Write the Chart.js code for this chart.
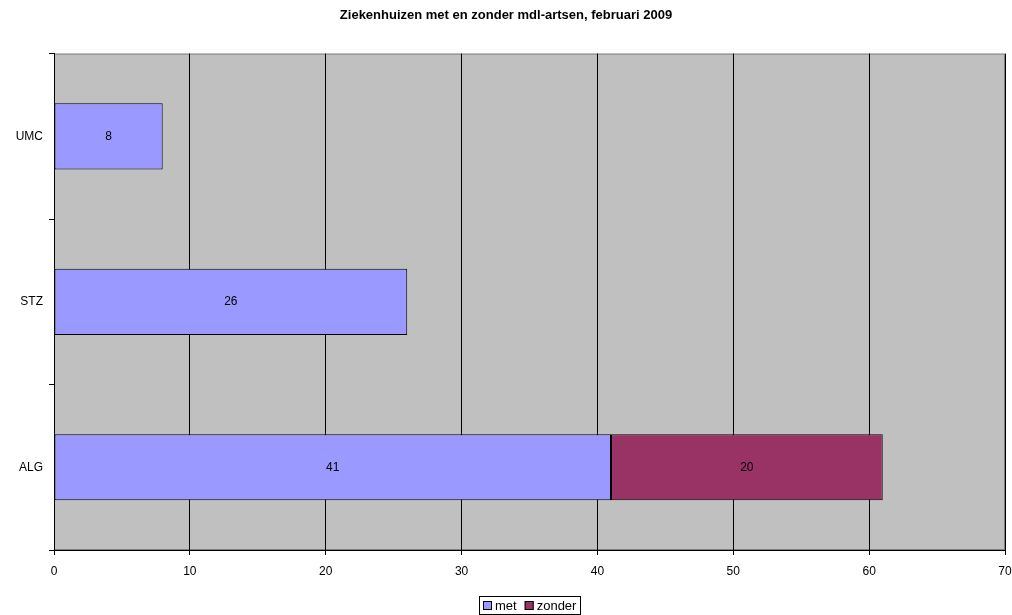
<!DOCTYPE html>
<html>
<head>
<meta charset="utf-8">
<script src="https://cdn.jsdelivr.net/npm/chart.js@4/dist/chart.umd.min.js"></script>
<style>
  html, body { margin: 0; padding: 0; background: #fff; }
  #wrap { width: 1012px; height: 615px; position: relative; }
</style>
</head>
<body>
<div id="wrap"><canvas id="chart"></canvas></div>
<script>
const categories = ['UMC', 'STZ', 'ALG'];
const metValues = [8, 26, 41];
const zonderValues = [0, 0, 20];
const xTicks = [0, 10, 20, 30, 40, 50, 60, 70];

const FONT = '"Liberation Sans", Arial, sans-serif';

// plot achtergrond + kader
const plotBg = {
    id: 'plotBg',
    beforeDraw(chart) {
        const { ctx, chartArea: a } = chart;
        ctx.save();
        ctx.fillStyle = '#c0c0c0';
        ctx.fillRect(a.left, a.top, a.right - a.left, a.bottom - a.top);
        ctx.strokeStyle = '#808080';
        ctx.lineWidth = 1;
        ctx.strokeRect(a.left + 0.5, a.top + 0.5, a.right - a.left - 1, a.bottom - a.top - 1);
        ctx.restore();
    }
};

// waarden midden in de balken
const barLabels = {
    id: 'barLabels',
    afterDatasetsDraw(chart) {
        const { ctx } = chart;
        ctx.save();
        ctx.font = '12px ' + FONT;
        ctx.fillStyle = '#000';
        ctx.textAlign = 'center';
        ctx.textBaseline = 'middle';
        chart.data.datasets.forEach((ds, i) => {
            chart.getDatasetMeta(i).data.forEach((bar, j) => {
                if (!ds.data[j]) return;
                ctx.fillText(ds.data[j], (bar.x + bar.base) / 2, bar.y);
            });
        });
        ctx.restore();
    }
};

// legenda met kader, gecentreerd onder het plotgebied
const boxLegend = {
    id: 'boxLegend',
    afterDraw(chart) {
        const { ctx, chartArea: a } = chart;
        const sets = chart.data.datasets;
        ctx.save();
        ctx.font = '13px ' + FONT;
        const sq = 9, gap = 3, itemGap = 8, pad = 4;
        let total = pad * 2;
        sets.forEach((ds, i) => {
            total += sq + gap + ctx.measureText(ds.label).width;
            if (i < sets.length - 1) total += itemGap;
        });
        total = Math.round(total);
        const cx = (a.left + a.right) / 2;
        const top = 596, h = 18;
        let x = Math.round(cx - total / 2);
        ctx.fillStyle = '#fff';
        ctx.fillRect(x, top, total, h);
        ctx.strokeStyle = '#000';
        ctx.lineWidth = 1;
        ctx.strokeRect(x + 0.5, top + 0.5, total, h);
        x += pad;
        ctx.textBaseline = 'middle';
        sets.forEach(ds => {
            const sy = top + 5;
            ctx.fillStyle = ds.backgroundColor;
            ctx.fillRect(x, sy, sq, sq);
            ctx.strokeRect(x + 0.5, sy + 0.5, sq - 1, sq - 1);
            x += sq + gap;
            ctx.fillStyle = '#000';
            ctx.fillText(ds.label, x, sy + sq / 2 + 1);
            x += ctx.measureText(ds.label).width + itemGap;
        });
        ctx.restore();
    }
};

const ctx = document.getElementById('chart').getContext('2d');
new Chart(ctx, {
    type: 'bar',
    data: {
        labels: categories,
        datasets: [
            {
                label: 'met',
                data: metValues,
                backgroundColor: '#9999ff',
                borderColor: '#000',
                borderWidth: 1,
                borderSkipped: false,
                categoryPercentage: 1,
                barPercentage: 0.4
            },
            {
                label: 'zonder',
                data: zonderValues,
                backgroundColor: '#993366',
                borderColor: '#000',
                borderWidth: 1,
                borderSkipped: false,
                categoryPercentage: 1,
                barPercentage: 0.4
            }
        ]
    },
    options: {
        indexAxis: 'y',
        responsive: true,
        maintainAspectRatio: false,
        animation: false,
        layout: { padding: { left: 0, right: 0, top: 0, bottom: 25 } },
        scales: {
            x: {
                stacked: true,
                min: 0,
                max: 70,
                afterBuildTicks(scale) {
                    scale.ticks = xTicks.map(v => ({ value: v }));
                },
                afterFit(scale) {
                    scale.height = 40;
                    scale.paddingRight = 7;
                },
                grid: {
                    color: '#000',
                    lineWidth: 1,
                    tickLength: 5,
                    drawOnChartArea: true
                },
                border: { color: '#000', width: 1 },
                ticks: {
                    color: '#000',
                    padding: 9,
                    maxRotation: 0,
                    font: { family: FONT, size: 12 }
                }
            },
            y: {
                stacked: true,
                afterFit(scale) { scale.width = 54; },
                grid: {
                    offset: true,
                    drawOnChartArea: false,
                    color: '#000',
                    tickLength: 5
                },
                border: { color: '#000', width: 1 },
                ticks: {
                    color: '#000',
                    padding: 6,
                    font: { family: FONT, size: 12 }
                }
            }
        },
        plugins: {
            title: {
                display: true,
                text: 'Ziekenhuizen met en zonder mdl-artsen, februari 2009',
                color: '#000',
                font: { family: FONT, size: 13, weight: 'bold' },
                padding: { top: 8, bottom: 30 }
            },
            legend: { display: false },
            tooltip: { enabled: false }
        }
    },
    plugins: [plotBg, barLabels, boxLegend]
});
</script>
</body>
</html>
